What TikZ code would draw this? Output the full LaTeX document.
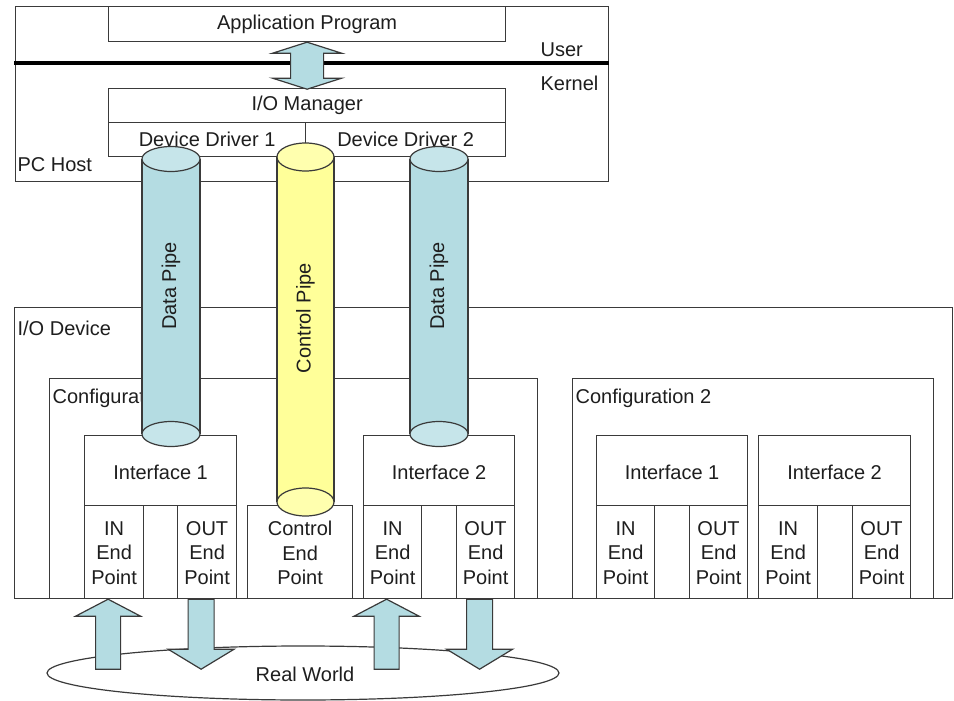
\documentclass[tikz,border=0pt]{standalone}
\usepackage{fontspec}
\setmainfont{Liberation Sans}
\usetikzlibrary{calc,shapes.geometric}

\definecolor{ink}{HTML}{3A3A3A}
\definecolor{txt}{HTML}{1E1E1E}
\definecolor{pipeblue}{HTML}{B4DCE2}
\definecolor{pipeblueend}{HTML}{C6E5EA}
\definecolor{pipeyellow}{HTML}{FFFF99}
\definecolor{pipeyellowend}{HTML}{FFFFAE}

% rectangle node: name, left, top, width, height
\newcommand\mkbox[5]{\node[box, minimum width=#4pt, minimum height=#5pt] (#1) at (#2,#3) {};}
% pipe drawn as a can: centre x, top y, bottom y, rx, ry, body colour, end colour
\newcommand\pipecan[7]{%
  \fill[#6] (#1-#4,#2) rectangle (#1+#4,#3);
  \draw (#1-#4,#2) -- (#1-#4,#3) (#1+#4,#2) -- (#1+#4,#3);
  \filldraw[fill=#7] (#1,#2) ellipse [x radius=#4pt, y radius=#5pt];
  \filldraw[fill=#7] (#1,#3) ellipse [x radius=#4pt, y radius=#5pt];
}

\begin{document}
\begin{tikzpicture}[x=1pt, y=-1pt, line width=1.2pt, draw=ink,
  box/.style={draw=ink, fill=white, inner sep=0pt, anchor=north west},
  lbl/.style={text=txt, inner sep=0pt, font=\fontsize{20}{24.5}\selectfont},
  blockarrow/.style={draw=ink, fill=pipeblue, line width=1.2pt, line join=miter}]

\useasboundingbox (0,0) rectangle (954,701);
\begin{scope}
\clip (0,0) rectangle (954,701);

% ---------------- PC host ----------------
\mkbox{pc}{15}{6}{593}{175}
\mkbox{app}{108}{6}{397}{35}
\node[lbl] (appt) at (app.center) {Application Program};
\coordinate (sepL) at (14,63);
\coordinate (sepR) at (609,63);
\draw[line width=4pt, black] (sepL) -- (sepR);
\node[lbl, anchor=west] (usr) at (540,50) {User};
\node[lbl, anchor=west] (krn) at (540,83) {Kernel};
\mkbox{iom}{108}{88}{397}{34}
\node[lbl] (iomt) at (iom.center) {I/O Manager};
\mkbox{dd1}{108}{122}{197}{34}
\mkbox{dd2}{305}{122}{200}{34}
\node[lbl] (dd1t) at (dd1.center) {Device Driver 1};
\node[lbl] (dd2t) at (dd2.center) {Device Driver 2};
\node[lbl, anchor=west] (pct) at (17,165) {PC Host};

% user/kernel double arrow
\filldraw[blockarrow] (app.south) -- ++(34.5,11) -- ++(-18,0) -- ++(0,25)
  -- ++(18,0) -- ++(-34.5,11) -- ++(-34.5,-11) -- ++(18,0) -- ++(0,-25)
  -- ++(-18,0) -- cycle;

% ---------------- I/O device ----------------
\mkbox{iod}{14}{307}{938}{291}
\node[lbl, anchor=west] (iodt) at (17,328) {I/O Device};

\mkbox{cfg1}{49}{378}{488}{220}
\node[lbl, anchor=west] (cfg1t) at (52,398) {Configuration 1};
\mkbox{cfg2}{572}{378}{361}{220}
\node[lbl, anchor=west] (cfg2t) at (575,398) {Configuration 2};

% configuration 1
\mkbox{if11}{84}{435}{152}{70}
\mkbox{in11}{84}{505}{59}{93}
\mkbox{gp11}{143}{505}{34}{93}
\mkbox{out11}{177}{505}{59}{93}
\mkbox{cep}{247}{505}{105}{93}
\mkbox{if12}{363}{435}{151}{70}
\mkbox{in12}{363}{505}{58}{93}
\mkbox{gp12}{421}{505}{35}{93}
\mkbox{out12}{456}{505}{58}{93}

% configuration 2
\mkbox{if21}{596}{435}{151}{70}
\mkbox{in21}{596}{505}{58}{93}
\mkbox{gp21}{654}{505}{35}{93}
\mkbox{out21}{689}{505}{58}{93}
\mkbox{if22}{758}{435}{152}{70}
\mkbox{in22}{758}{505}{59}{93}
\mkbox{gp22}{817}{505}{35}{93}
\mkbox{out22}{852}{505}{58}{93}

\foreach \i/\n in {if11/Interface 1, if12/Interface 2, if21/Interface 1, if22/Interface 2}
  \node[lbl] (\i t) at ($(\i.center)+(0,2)$) {\n};
\foreach \e in {in11, in12, in21, in22}
  \node[lbl, align=center] (\e t) at ($(\e.center)+(0,1)$) {IN\\End\\Point};
\foreach \e in {out11, out12, out21, out22}
  \node[lbl, align=center] (\e t) at ($(\e.center)+(0,1)$) {OUT\\End\\Point};
\node[lbl, align=center] (cept) at ($(cep.center)+(0,1)$) {Control\\End\\Point};

% ---------------- pipes ----------------
\pipecan{171}{159}{434}{29}{12.5}{pipeblue}{pipeblueend}
\pipecan{305.5}{157}{502}{28.5}{14}{pipeyellow}{pipeyellowend}
\pipecan{439}{159}{434}{29}{12.5}{pipeblue}{pipeblueend}
\node[lbl, rotate=90] (dp1t) at (171,286) {Data Pipe};
\node[lbl, rotate=90] (cpt) at (305.5,318) {Control Pipe};
\node[lbl, rotate=90] (dp2t) at (439,286) {Data Pipe};

% ---------------- real world ----------------
\node[draw=ink, ellipse, minimum width=512pt, minimum height=54pt, inner sep=0pt]
  (world) at (303,673) {};
\node[lbl] (worldt) at (305,674) {Real World};

% data flowing in (up) and out (down)
\foreach \e in {in11, in12}
  \filldraw[blockarrow] ($(\e.south)+(-6,0)$) -- ++(32.5,17) -- ++(-20,0)
    -- ++(0,53) -- ++(-25,0) -- ++(0,-53) -- ++(-20,0) -- cycle;
\foreach \e in {out11, out12}
  \filldraw[blockarrow] ($(\e.south)+(-19,0)$) -- ++(26,0) -- ++(0,50)
    -- ++(20,0) -- ++(-33,20) -- ++(-33,-20) -- ++(20,0) -- cycle;
\end{scope}
\end{tikzpicture}
\end{document}
